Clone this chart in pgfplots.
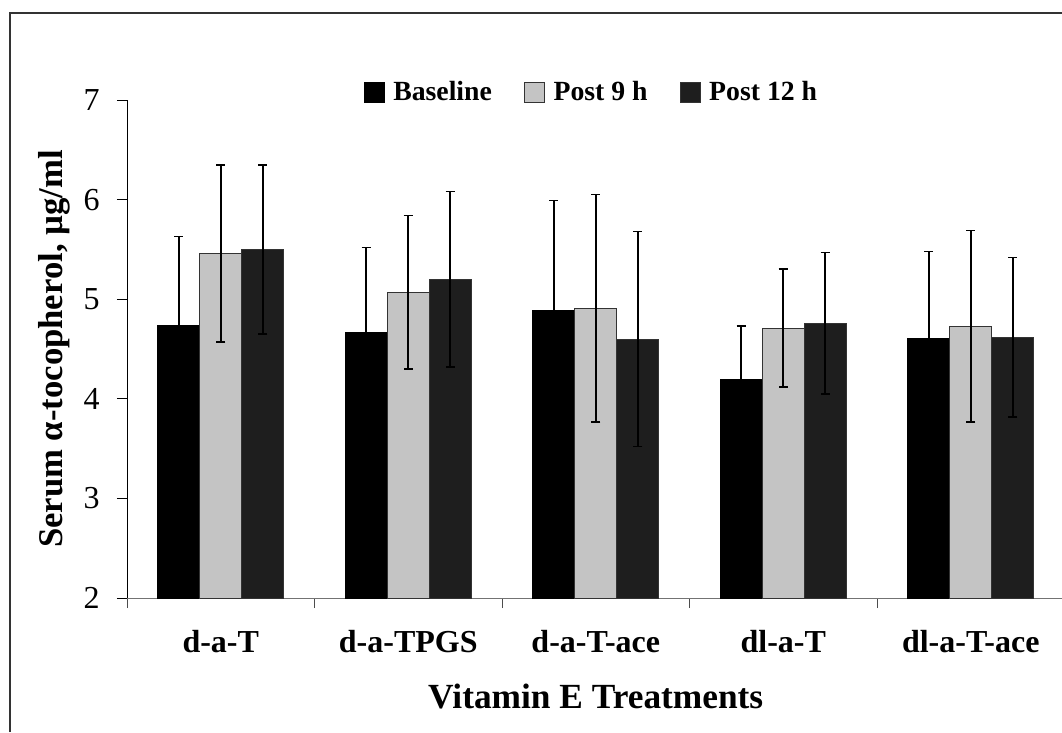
\documentclass[border=0pt]{standalone}
\usepackage{fontspec}
\setmainfont{Liberation Serif}
\usepackage{pgfplots}
\usepackage{pgfplotstable}
\pgfplotsset{compat=1.18}

\definecolor{lightbar}{RGB}{196,196,196}
\definecolor{darkbar}{RGB}{30,30,30}

\pgfplotsset{
  sq legend/.style={legend image code/.code={\draw[##1,/tikz/.cd] (0pt,-7.5pt) rectangle (15pt,7.5pt);}},
}

% group, mean and SD for each time point
\pgfplotstableread{
cat base base_e p9   p9_e p12  p12_e
1   4.74 0.89   5.46 0.89 5.50 0.85
2   4.67 0.85   5.07 0.77 5.20 0.88
3   4.89 1.10   4.91 1.14 4.60 1.08
4   4.19 0.54   4.71 0.59 4.76 0.71
5   4.61 0.87   4.73 0.96 4.62 0.80
}\vitE

\begin{document}
\begin{tikzpicture}
  \path[use as bounding box] (0pt,0pt) rectangle (796.5pt,549pt);
  % outer frame (cut off at right and bottom)
  \draw[line width=1.5pt, black!80] (7.5pt,0pt) -- (7.5pt,539.25pt) -- (796.5pt,539.25pt);
  \begin{axis}[
    at={(95.25pt,100.5pt)}, anchor=south west,
    scale only axis,
    width=701.25pt, height=373.5pt,
    ybar=0pt,
    bar width=31.5pt,
    xmin=0.5, xmax=5.4867,
    ymin=2, ymax=7,
    axis x line*=bottom,
    axis y line*=left,
    x axis line style={black!55, line width=0.75pt},
    y axis line style={black, line width=0.75pt},
    xtick={1,...,5},
    xticklabels={d-a-T,d-a-TPGS,d-a-T-ace,dl-a-T,dl-a-T-ace},
    minor xtick={0.5,1.5,2.5,3.5,4.5},
    ytick={2,...,7},
    tick align=outside,
    major tick length=7.5pt,
    minor tick length=7.5pt,
    major x tick style={draw=none},
    minor x tick style={black!70, line width=0.75pt},
    y tick style={black, line width=0.75pt},
    /pgf/number format/assume math mode=true,
    yticklabel style={font=\fontsize{24}{24}\selectfont, inner sep=0pt, anchor=east, xshift=-12.75pt},
    xticklabel style={font=\fontsize{24}{24}\selectfont\bfseries, inner sep=0pt, anchor=base, yshift=-33pt},
    xlabel={Vitamin E Treatments},
    xlabel style={font=\fontsize{26.5}{26.5}\selectfont\bfseries, inner sep=0pt,
      at={(rel axis cs:0.5013,0)}, anchor=base, yshift=-82.5pt},
    ylabel={Serum α-tocopherol, µg/ml},
    ylabel style={font=\fontsize{26}{26}\selectfont\bfseries, inner sep=0pt,
      at={(rel axis cs:0,0.5)}, anchor=south, yshift=42.75pt},
    every axis plot post/.append style={sq legend},
    legend columns=-1,
    legend style={draw=none, fill=none, at={(rel axis cs:0.497,1.016)}, anchor=center,
      font=\fontsize{20.8}{20.8}\selectfont\bfseries,
      /tikz/every odd column/.append style={column sep=4.5pt},
      /tikz/every even column/.append style={column sep=22pt}},
    error bars/y dir=both,
    error bars/y explicit,
    error bars/error bar style={line width=1.3pt, black},
    error bars/error mark options={line width=1.3pt, black, mark size=3.4pt, rotate=90},
  ]
  \addplot[fill=black, draw=black, line width=0.75pt]
    table[x=cat, y=base, y error=base_e] {\vitE};
  \addplot[fill=lightbar, draw=black!80, line width=0.75pt]
    table[x=cat, y=p9, y error=p9_e] {\vitE};
  \addplot[fill=darkbar, draw=black!80, line width=0.75pt]
    table[x=cat, y=p12, y error=p12_e] {\vitE};
  \legend{Baseline, Post 9 h, Post 12 h}
  \end{axis}
\end{tikzpicture}
\end{document}
